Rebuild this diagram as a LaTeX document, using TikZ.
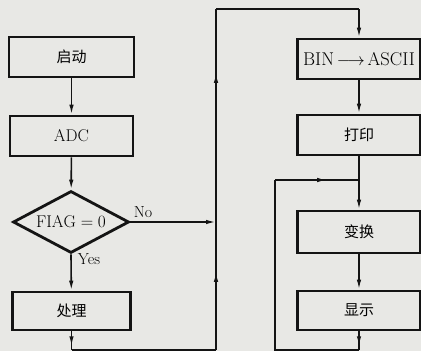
\documentclass[tikz,border=0pt]{standalone}
\usepackage{fontspec}
\newfontfamily\cjk{Noto Sans CJK SC}
\usetikzlibrary{shapes.geometric,arrows.meta,decorations.markings}
\definecolor{paper}{RGB}{232,232,229}
\definecolor{ink}{RGB}{20,20,20}
\tikzset{
  proc/.style={draw=ink, line width=2.8pt, minimum width=123pt, minimum height=40pt,
    inner sep=0pt, font=\fontsize{17}{20}\selectfont},
  cn/.style={font=\cjk\fontsize{15}{18}\selectfont},
  dia/.style={diamond, aspect=1.87, draw=ink, line width=2.8pt, minimum width=116pt,
    minimum height=62pt, inner sep=0pt, font=\fontsize{17}{20}\selectfont},
  conn/.style={draw=ink, line width=1.6pt},
  arr/.style={conn, -{Latex[length=10pt,width=4.5pt]}},
  midarr/.style={conn, postaction={decorate}, decoration={markings,
    mark=at position #1 with {\arrow{Latex[length=10pt,width=4.5pt]}}}},
  lbl/.style={font=\fontsize{16}{18}\selectfont, inner sep=1pt}
}
\begin{document}
\begin{tikzpicture}[x=1pt,y=-1pt]
\fill[paper] (0,0) rectangle (421,351);
\useasboundingbox (0,0) rectangle (421,351);
% left column
\node[proc, cn, minimum width=125pt] (start) at (71.5,57) {启动};
\node[proc] (adc) at (71.5,136) {ADC};
\node[dia] (flag) at (71,222) {$\mathrm{FIAG}=0$};
\node[proc, cn, minimum width=118pt, minimum height=38pt] (chuli) at (71.5,311) {处理};
% right column
\node[proc, font=\fontsize{18.5}{20}\selectfont] (bin) at (359,59) {BIN$\,{\longrightarrow}\,$ASCII};
\node[proc, cn] (print) at (359,135) {打印};
\node[proc, cn, minimum height=42pt] (bianhuan) at (359,232) {变换};
\node[proc, cn, minimum height=39pt] (xianshi) at (359,310.5) {显示};
% coordinates
\coordinate (n1) at (216,222);
\coordinate (b1) at (71.5,350);
\coordinate (b2) at (216,350);
\coordinate (t1) at (216,9);
\coordinate (t2) at (359,9);
\coordinate (j) at (359,180);
\coordinate (j2) at (275,180);
\coordinate (b3) at (359,350);
\coordinate (b4) at (275,350);
% labels
\node[lbl] (no) at (143,212) {No};
\node[lbl] (yes) at (89,259) {Yes};
% connectors
\draw[arr] (start) -- (adc);
\draw[arr] (adc) -- (flag);
\draw[arr] (flag.east) -- (n1);
\draw[arr] (flag.south) -- (chuli);
\draw[midarr=0.8] (chuli.south) -- (b1);
\draw[conn] (b1) -- (b2);
\draw[midarr=0.61] (b2) -- (n1);
\draw[midarr=0.70] (n1) -- (t1);
\draw[conn] (t1) -- (t2);
\draw[arr] (t2) -- (bin);
\draw[arr] (bin) -- (print);
\draw[conn] (print) -- (j);
\draw[arr] (j) -- (bianhuan);
\draw[arr] (bianhuan) -- (xianshi);
\draw[midarr=0.8] (xianshi.south) -- (b3);
\draw[conn] (b3) -- (b4) -- (j2);
\draw[midarr=0.62] (j2) -- (j);
\end{tikzpicture}
\end{document}
